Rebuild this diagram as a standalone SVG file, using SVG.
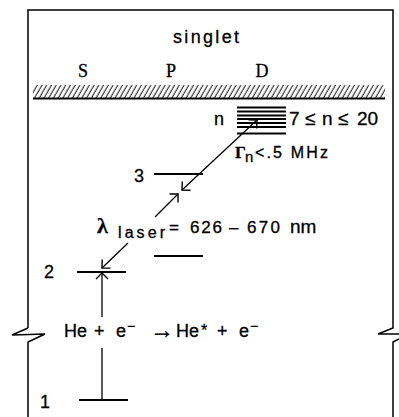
<svg xmlns="http://www.w3.org/2000/svg" width="399" height="417" viewBox="0 0 399 417">
<style>
.frame{fill:none;stroke:#000;stroke-width:1.5;stroke-linejoin:miter}
.lvl{stroke:#000;stroke-width:2;fill:none}
.ln{stroke:#000;stroke-width:1.3;fill:none}
.t{font-family:"Liberation Sans",Arial,sans-serif;fill:#000;stroke:#000;stroke-width:0.3}
.s{font-family:"Liberation Serif","Times New Roman",serif;fill:#000;stroke:#000;stroke-width:0.3}
</style>
<defs>
<marker id="ah" viewBox="-8 -8 10 16" markerWidth="10" markerHeight="16" refX="0" refY="0" orient="auto" markerUnits="userSpaceOnUse">
<path d="M-6,-6 L0,0 L-6,6" fill="none" stroke="#000" stroke-width="1.4"/>
</marker>
<marker id="ahs" viewBox="-8 -8 10 16" markerWidth="10" markerHeight="16" refX="0" refY="0" orient="auto-start-reverse" markerUnits="userSpaceOnUse">
<path d="M-6,-6 L0,0 L-6,6" fill="none" stroke="#000" stroke-width="1.4"/>
</marker>
<pattern id="hatch" patternUnits="userSpaceOnUse" width="4.1" height="20" patternTransform="rotate(30)">
<line x1="1" y1="0" x2="1" y2="20" stroke="#000" stroke-width="0.9"/>
</pattern>
</defs>

<g id="frame">
<path class="frame" d="M28,328 L28,10 L393,10 L393,328 L378,334 L399,334"/>
<path class="frame" d="M28,328 L12,335 L45,334 L28,342 L28,417"/>
<path class="frame" d="M399,339 L393,342 L393,417"/>
</g>

<g id="continuum">
<rect x="33" y="85" width="352" height="13" fill="url(#hatch)"/>
<line x1="33" y1="98.5" x2="385" y2="98.5" stroke="#000" stroke-width="1.8"/>
<text class="t" x="173" y="43" font-size="18" textLength="66">singlet</text>
<text class="s" x="83" y="77" font-size="18" text-anchor="middle">S</text>
<text class="s" x="171" y="77" font-size="18" text-anchor="middle">P</text>
<text class="s" x="262" y="77" font-size="18" text-anchor="middle">D</text>
</g>

<g id="level-n">
<path class="lvl" stroke-width="1.6" d="M237,107.5 H286 M237,111.5 H286 M237,115.5 H286 M237,119 H286 M237,123 H286 M237,127 H286 M237,133.5 H286"/>
<text class="t" x="214" y="125" font-size="18">n</text>
<text class="t" y="125" font-size="19"><tspan x="289">7</tspan><tspan x="305">≤</tspan><tspan x="322">n</tspan><tspan x="338">≤</tspan><tspan x="357">20</tspan></text>
<text class="t" y="158" font-size="17"><tspan x="235" font-family="Liberation Serif,serif" font-weight="bold">Γ</tspan><tspan x="245" y="162" font-size="15">n</tspan><tspan x="255" y="158" font-size="16" textLength="73">&lt;.5 MHz</tspan></text>
</g>

<g id="level-3">
<line class="lvl" x1="154" y1="174" x2="203" y2="174"/>
<text class="t" x="134" y="182" font-size="18">3</text>
</g>

<g id="level-unlabeled">
<line class="lvl" x1="154" y1="256" x2="203" y2="256"/>
</g>

<g id="level-2">
<line class="lvl" x1="77" y1="272" x2="126" y2="272"/>
<text class="t" x="44" y="278" font-size="18">2</text>
</g>

<g id="level-1">
<line class="lvl" x1="79" y1="400" x2="128" y2="400"/>
<text class="t" x="40" y="408" font-size="18">1</text>
</g>

<g id="laser-label">
<text class="s" x="97" y="233" font-size="22" font-weight="bold">λ</text>
<text class="t" x="118" y="238" font-size="16" textLength="47">laser</text>
<text class="t" y="233" font-size="17"><tspan x="169">=</tspan><tspan x="190" textLength="32">626</tspan><tspan x="229">–</tspan><tspan x="247" textLength="33">670</tspan><tspan x="290" font-size="19">nm</tspan></text>
</g>

<g id="collision-label">
<text class="t" y="337" font-size="18"><tspan x="64">He</tspan><tspan x="94">+</tspan><tspan x="116">e</tspan><tspan x="127" y="331" font-size="14">−</tspan><tspan x="150" y="338" font-size="24">→</tspan><tspan x="176" y="337" font-size="18">He</tspan><tspan x="201" y="336" font-size="16">*</tspan><tspan x="217" y="337">+</tspan><tspan x="239">e</tspan><tspan x="250" y="331" font-size="14">−</tspan></text>
</g>

<g id="connectors">
<line class="ln" x1="182" y1="190" x2="257" y2="120" marker-start="url(#ahs)" marker-end="url(#ah)"/>
<line class="ln" x1="155" y1="217" x2="178" y2="194" marker-end="url(#ah)"/>
<line class="ln" x1="128" y1="243" x2="102" y2="268" marker-end="url(#ah)"/>
<line class="ln" x1="102" y1="317" x2="102" y2="273" marker-end="url(#ah)"/>
<line class="ln" x1="102" y1="348" x2="102" y2="400"/>
</g>
</svg>
